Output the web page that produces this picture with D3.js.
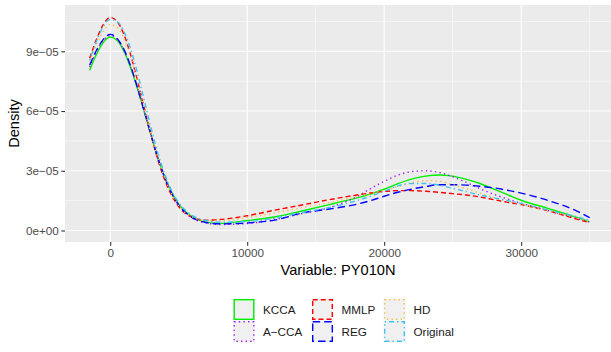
<!DOCTYPE html>
<html>
<head>
<meta charset="utf-8">
<script src="https://cdn.jsdelivr.net/npm/d3@7"></script>
<style>
  body { margin: 0; background: #fff; }
  text { font-family: "Liberation Sans", Arial, sans-serif; }
</style>
</head>
<body>
<div id="chart"></div>
<script>
var xGrid = [-1500, -1000, -500, 0, 500, 1000, 1500, 2000, 2500, 3000, 3500, 4000, 4500, 5000,
    6000, 7000, 8000, 10000, 12000, 14000, 16000, 18000, 19000, 20000, 21000, 22000, 23000,
    24000, 25000, 26000, 27000, 28000, 29000, 30000, 32000, 34000, 35000];

// density values, in units of 1e-5
var kcca = [8.05, 8.85, 9.45, 9.72, 9.55, 9.0, 8.15, 7.1, 5.95, 4.75, 3.6, 2.65, 1.9, 1.32,
    0.68, 0.42, 0.35, 0.5, 0.68, 0.98, 1.3, 1.64, 1.83, 2.07, 2.35, 2.58, 2.73,
    2.79, 2.73, 2.57, 2.36, 2.08, 1.8, 1.52, 1.1, 0.67, 0.44];
var acca = [8.2, 9.0, 9.55, 9.8, 9.6, 9.05, 8.2, 7.12, 5.95, 4.75, 3.6, 2.62, 1.85, 1.28,
    0.62, 0.38, 0.3, 0.35, 0.55, 0.85, 1.15, 1.7, 2.1, 2.47, 2.78, 2.96, 3.0,
    2.92, 2.7, 2.42, 2.1, 1.82, 1.58, 1.37, 1.0, 0.62, 0.42];
var mmlp = [8.65, 9.6, 10.35, 10.7, 10.5, 9.85, 8.8, 7.5, 6.1, 4.75, 3.5, 2.5, 1.75, 1.2,
    0.66, 0.52, 0.55, 0.74, 1.02, 1.28, 1.55, 1.78, 1.88, 1.96, 2.0, 2.0, 1.97,
    1.92, 1.85, 1.78, 1.68, 1.55, 1.42, 1.3, 0.98, 0.58, 0.39];
var reg = [8.3, 9.05, 9.6, 9.85, 9.65, 9.1, 8.25, 7.15, 5.95, 4.75, 3.6, 2.62, 1.85, 1.28,
    0.65, 0.4, 0.33, 0.38, 0.52, 0.88, 1.08, 1.32, 1.5, 1.72, 1.92, 2.08, 2.2,
    2.3, 2.3, 2.28, 2.22, 2.14, 2.02, 1.88, 1.5, 1.0, 0.65];
var hd = [8.5, 9.35, 10.0, 10.35, 10.2, 9.65, 8.7, 7.45, 6.1, 4.8, 3.6, 2.6, 1.82, 1.25,
    0.68, 0.5, 0.5, 0.65, 0.88, 1.15, 1.4, 1.7, 1.85, 2.02, 2.2, 2.4, 2.5,
    2.48, 2.3, 2.1, 1.87, 1.65, 1.48, 1.32, 1.0, 0.64, 0.45];
var original = [8.55, 9.5, 10.25, 10.6, 10.5, 10.0, 9.1, 7.9, 6.5, 5.1, 3.85, 2.8, 1.98, 1.4,
    0.75, 0.5, 0.42, 0.45, 0.62, 0.9, 1.15, 1.5, 1.72, 1.97, 2.25, 2.36, 2.36,
    2.28, 2.12, 1.95, 1.78, 1.64, 1.5, 1.36, 1.02, 0.7, 0.5];

var seriesNames = ["KCCA", "A\u2212CCA", "MMLP", "REG", "HD", "Original"];
var seriesValues = [kcca, acca, mmlp, reg, hd, original];
var seriesColors = ["#00ee00", "#a020f0", "#ff0000", "#0000ff", "#f2c14a", "#3fc4f0"];
var seriesDash = ["none", "1.4,3.2", "5,3", "7.5,4", "1.4,3.2", "1.4,3,5,3"];

var xTicks = [0, 10000, 20000, 30000];
var xMinor = [5000, 15000, 25000, 35000];
var yTicks = [0, 3e-5, 6e-5, 9e-5];
var yTickLabels = ["0e+00", "3e\u221205", "6e\u221205", "9e\u221205"];
var yMinor = [1.5e-5, 4.5e-5, 7.5e-5, 10.5e-5];

var width = 611, height = 352;
var panel = {left: 65, right: 611, top: 5, bottom: 242};

var svg = d3.select("#chart")
    .append("svg")
    .attr("width", width)
    .attr("height", height);

var x = d3.scaleLinear()
    .domain([-3300, 36560])
    .range([panel.left, panel.right]);
var y = d3.scaleLinear()
    .domain([-0.578e-5, 11.325e-5])
    .range([panel.bottom, panel.top]);

// panel background
svg.append("rect")
    .attr("x", panel.left).attr("y", panel.top)
    .attr("width", panel.right - panel.left)
    .attr("height", panel.bottom - panel.top)
    .attr("fill", "#ebebeb");

// grid lines
var grid = svg.append("g");
grid.selectAll(".xminor").data(xMinor).enter().append("line")
    .attr("x1", function (d) { return x(d); }).attr("x2", function (d) { return x(d); })
    .attr("y1", panel.top).attr("y2", panel.bottom)
    .attr("stroke", "#fff").attr("stroke-width", 0.55);
grid.selectAll(".yminor").data(yMinor).enter().append("line")
    .attr("y1", function (d) { return y(d); }).attr("y2", function (d) { return y(d); })
    .attr("x1", panel.left).attr("x2", panel.right)
    .attr("stroke", "#fff").attr("stroke-width", 0.55);
grid.selectAll(".xmajor").data(xTicks).enter().append("line")
    .attr("x1", function (d) { return x(d); }).attr("x2", function (d) { return x(d); })
    .attr("y1", panel.top).attr("y2", panel.bottom)
    .attr("stroke", "#fff").attr("stroke-width", 1.1);
grid.selectAll(".ymajor").data(yTicks).enter().append("line")
    .attr("y1", function (d) { return y(d); }).attr("y2", function (d) { return y(d); })
    .attr("x1", panel.left).attr("x2", panel.right)
    .attr("stroke", "#fff").attr("stroke-width", 1.1);

// axes
var xAxis = d3.axisBottom(x).tickValues(xTicks).tickSize(3.7).tickPadding(2.5)
    .tickFormat(function (d) { return String(d); });
var gx = svg.append("g")
    .attr("transform", "translate(0," + panel.bottom + ")")
    .call(xAxis);
var yAxis = d3.axisLeft(y).tickValues(yTicks).tickSize(3.7).tickPadding(2.5)
    .tickFormat(function (d, i) { return yTickLabels[i]; });
var gy = svg.append("g")
    .attr("transform", "translate(" + panel.left + ",0)")
    .call(yAxis);
[gx, gy].forEach(function (g) {
    g.select(".domain").remove();
    g.selectAll(".tick line").attr("stroke", "#333").attr("stroke-width", 1.1);
    g.selectAll(".tick text")
        .attr("fill", "#4d4d4d")
        .style("font-size", "11.7px")
        .style("font-family", "'Liberation Sans', Arial, sans-serif");
});

// density lines
var line = d3.line()
    .x(function (d) { return x(d[0]); })
    .y(function (d) { return y(d[1] * 1e-5); })
    .curve(d3.curveMonotoneX);

svg.append("g")
    .selectAll("path")
    .data(seriesValues)
    .enter()
    .append("path")
    .attr("d", function (vals) { return line(vals.map(function (v, i) { return [xGrid[i], v]; })); })
    .attr("fill", "none")
    .attr("stroke", function (d, i) { return seriesColors[i]; })
    .attr("stroke-width", 1.4)
    .attr("stroke-dasharray", function (d, i) { return seriesDash[i]; });

// axis titles
svg.append("text")
    .attr("x", (panel.left + panel.right) / 2)
    .attr("y", 275)
    .attr("text-anchor", "middle")
    .style("font-size", "14.6px")
    .attr("fill", "#000")
    .text("Variable: PY010N");
svg.append("text")
    .attr("transform", "translate(19," + ((panel.top + panel.bottom) / 2) + ") rotate(-90)")
    .attr("text-anchor", "middle")
    .style("font-size", "14.6px")
    .attr("fill", "#000")
    .text("Density");

// legend, filled column by column
var legend = svg.append("g");
var keyX = [233, 311.5, 383.5], keyY = [298.5, 320.5], keySize = 22;
var items = legend.selectAll("g")
    .data(seriesNames)
    .enter()
    .append("g")
    .attr("transform", function (d, i) {
        return "translate(" + keyX[Math.floor(i / 2)] + "," + keyY[i % 2] + ")";
    });
items.append("rect")
    .attr("width", keySize).attr("height", keySize)
    .attr("fill", "#f2f2f2");
items.append("rect")
    .attr("x", 1.2).attr("y", 1.2)
    .attr("width", keySize - 2.4).attr("height", keySize - 2.4)
    .attr("fill", "#f0f0f0")
    .attr("stroke", function (d, i) { return seriesColors[i]; })
    .attr("stroke-width", 1.4)
    .attr("stroke-dasharray", function (d, i) { return seriesDash[i]; });
items.append("text")
    .attr("x", keySize + 8)
    .attr("y", keySize / 2)
    .attr("dy", "0.35em")
    .style("font-size", "11.7px")
    .attr("fill", "#1a1a1a")
    .text(function (d) { return d; });
</script>
</body>
</html>
